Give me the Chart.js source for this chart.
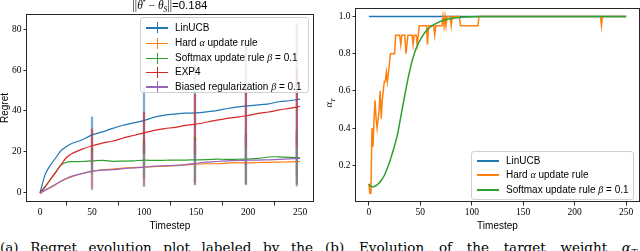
<!DOCTYPE html>
<html><head><meta charset="utf-8">
<script src="https://cdn.jsdelivr.net/npm/chart.js@4"></script>
<style>
html,body{margin:0;padding:0;background:#fff;}
#wrap{position:relative;width:640px;height:251px;overflow:hidden;background:#fff;font-family:"Liberation Sans",Arial,sans-serif;}
canvas{position:absolute;top:0;}
.m{font-family:"Liberation Serif","DejaVu Serif",serif;font-style:italic;}
.legend{position:absolute;background:rgba(255,255,255,0.8);border:1px solid #d0d0d0;border-radius:3px;box-sizing:border-box;}
.row{position:absolute;left:0;height:14px;font-size:10px;line-height:14px;white-space:nowrap;color:#000;}
.h{position:absolute;height:1.5px;}
.v{position:absolute;width:1.5px;}
.cap{position:absolute;top:240px;font-family:"DejaVu Serif","Liberation Serif",serif;font-size:13.5px;line-height:14px;white-space:nowrap;text-align:justify;text-align-last:justify;color:#000;}
.cap .m{font-family:"DejaVu Serif",serif;}
</style></head>
<body>
<div id="wrap">
<canvas id="c1" width="320" height="231" style="left:0"></canvas>
<canvas id="c2" width="320" height="231" style="left:320px"></canvas>
<div id="t1" style="position:absolute;left:110px;top:-3px;width:120px;text-align:center;font-size:11.5px;white-space:nowrap;"><span class="m" style="font-style:normal">||</span><span class="m">θ</span><sup style="font-size:7.5px">*</sup><span class="m" style="font-style:normal"> − </span><span class="m">θ</span><sub class="m" style="font-size:7.5px">S</sub><span class="m" style="font-style:normal">||</span>=0.184</div>
<div id="ylab2" style="position:absolute;left:322px;top:96px;width:16px;height:14px;transform:rotate(-90deg);font-size:10px;text-align:center;"><span class="m">α</span><sub class="m" style="font-size:7px">T</sub></div>
<div id="leg1" class="legend" style="left:140px;top:17px;width:169px;height:76px;"></div>
<div id="leg2" class="legend" style="left:471px;top:151px;width:163px;height:49px;"></div>
<div class="cap" style="left:0;width:313px;">(a) Regret evolution plot labeled by the</div>
<div class="cap" style="left:325px;width:312px;">(b) Evolution of the target weight <span class="m">α</span><sub class="m" style="font-size:9px">T</sub></div>
</div>
<script>
// ---------- data: left panel (regret) ----------
const regretSteps = [0,5,10,15,20,25,30,40,50,60,70,80,90,100,110,120,130,140,150,160,170,180,190,200,210,220,230,240,250];
const linucbRegret  = [0,9,13.5,17,20.5,22.5,24,25.8,28.3,29.8,31.5,33,34.2,35.3,37,38,38.5,38.9,39.1,39.6,40.2,41.2,42,42.5,43,43.5,44.5,45,45.8];
const hardRegret    = [-0.5,1.2,2.5,4,5.5,6.8,7.8,9.3,10.5,11.2,11.6,12.1,12.3,12.5,12.8,13,13.3,13.6,14,14.2,14.2,14.5,14.7,14.6,14.8,14.9,15,15.1,15.3];
const softmaxRegret = [0,3,6.5,10,13.5,14.8,15.2,15.3,15.6,15.8,15.4,15.5,15.6,16,15.8,15.9,16,16,16.1,16.2,16.5,16.3,16.4,16.5,16.8,17.5,17.6,17.3,17.2];
const exp4Regret    = [0,3,6.5,10,13.5,17,19,21.2,23,24.3,25.3,26.8,28,29.3,30.5,31.4,32,33,33.6,34.5,35.5,36.4,37,37.8,38.8,39.5,40.5,41.3,42.2];
const biasedRegret  = [0,1.3,2.7,4.2,5.6,7,8,9.4,10.6,11.1,11.3,11.8,12.2,12.5,13,13.2,13.4,13.8,14.4,15,15.3,15.6,15.8,15.9,16,16.1,16.3,16.6,16.8];
// error bars
const errSteps = [50,100,149,198,247];
const linucbErrMid  = [28.3,35.3,39.1,42.4,45.6], linucbErr  = [8.8,15.5,23.5,29,37];
const hardErrMid    = [10.5,12.5,14,14.6,15.2],   hardErr    = [8,9,10,10.5,11];
const softmaxErrMid = [15.6,16,16.1,16.5,17.2],   softmaxErr = [6,9,11,12,13];
const exp4ErrMid    = [23,29.3,33.6,37.8,42],     exp4Err    = [8.2,10.2,14.5,15.2,19];
const biasedErrMid  = [10.6,12.5,14.4,15.9,16.7], biasedErr  = [9.2,9.5,10.5,12,13.5];
const leftNames = ['LinUCB','Hard <span class="m">α</span> update rule','Softmax update rule <span class="m">β</span> = 0.1','EXP4','Biased regularization <span class="m">β</span> = 0.1'];
const xTicks = [0,50,100,150,200,250];
const xTickLabels = ['0','50','100','150','200','250'];
const leftYTicks = [0,20,40,60,80];
const leftYTickLabels = ['0','20','40','60','80'];

// ---------- data: right panel (alpha_T) ----------
const linucbAlphaT = [0,250];
const linucbAlphaV = [1.0,1.0];
const hardAlphaT = [0,1,2,3,4,5,6,7,8,9,10,11,12,13,14,15,16,17,18,19,20,21,25,26,30,31,32,35,36,37,38,42,43,44,46,47,48,49,56,57,58,63,64,65,71,72,73,74,75,76,79,80,81,88,89,106,107,225,226,227,250];
const hardAlphaV = [0.1,0.05,0.05,0.4,0.3,0.45,0.55,0.45,0.4,0.45,0.5,0.6,0.45,0.55,0.6,0.65,0.65,0.7,0.65,0.7,0.75,0.8,0.8,0.9,0.9,0.85,0.9,0.9,0.8,0.85,0.9,0.9,0.85,0.9,0.9,0.85,0.9,0.95,0.95,0.85,0.95,0.95,0.9,0.95,0.95,1.0,0.95,1.0,0.95,1.0,1.0,0.95,1.0,1.0,0.95,0.95,1.0,1.0,0.95,1.0,1.0];
const softAlphaT = [0,1,2,3,5,8,10,12,15,18,20,22,25,28,30,32,35,38,40,42,45,48,50,55,60,65,70,75,80,85,90,100,110,250];
const softAlphaV = [0.1,0.092,0.087,0.085,0.086,0.095,0.105,0.118,0.145,0.185,0.215,0.25,0.305,0.37,0.43,0.49,0.58,0.665,0.715,0.76,0.815,0.855,0.875,0.918,0.945,0.962,0.975,0.984,0.99,0.993,0.996,0.999,1.0,1.0];
const rightNames = ['LinUCB','Hard <span class="m">α</span> update rule','Softmax update rule <span class="m">β</span> = 0.1'];
const rightYTicks = [0.2,0.4,0.6,0.8,1.0];
const rightYTickLabels = ['0.2','0.4','0.6','0.8','1.0'];

const colors = ['#1f77b4','#ff7f0e','#2ca02c','#d62728','#9467bd'];
function rgba(hex,a){const n=parseInt(hex.slice(1),16);return `rgba(${n>>16},${(n>>8)&255},${n&255},${a})`;}
function pts(xs,ys){return xs.map((x,i)=>({x:x,y:ys[i]}));}
function bars(xs,mid,err){return xs.map((x,i)=>({x:x,y:[mid[i]-err[i],mid[i]+err[i]]}));}

const tickFont = {family:'"Liberation Serif","DejaVu Serif",serif', size:9.5};
const labFont = {family:'"Liberation Sans",Arial,sans-serif', size:10, lineHeight:1};

const framePlugin = {id:'frame', afterDraw(chart){const a=chart.chartArea,c=chart.ctx;c.save();c.strokeStyle='#262626';c.lineWidth=1;c.strokeRect(Math.round(a.left)-0.5,Math.round(a.top)+0.5,Math.round(a.right-a.left)+1,Math.round(a.bottom-a.top)-1);c.restore();}};

function xScale(h){return {type:'linear',min:-12.5,max:262.5,offset:false,
  afterBuildTicks:s=>{s.ticks=xTicks.map(v=>({value:v}));},
  afterFit:s=>{s.height=h;},
  grid:{drawOnChartArea:false,drawTicks:true,tickLength:3.5,tickColor:'#262626',lineWidth:1},
  border:{display:false},
  ticks:{font:tickFont,color:'#000',padding:1,maxRotation:0,autoSkip:false,callback:(v,i)=>xTickLabels[i]},
  title:{display:true,text:'Timestep',font:labFont,color:'#000',padding:0}};}
function yScale(min,max,w,tv,tl,title){return {type:'linear',min:min,max:max,
  afterBuildTicks:s=>{s.ticks=tv.map(v=>({value:v}));},
  afterFit:s=>{s.width=w;},
  grid:{drawOnChartArea:false,drawTicks:true,tickLength:3.5,tickColor:'#262626',lineWidth:1},
  border:{display:false},
  ticks:{font:tickFont,color:'#000',padding:2,autoSkip:false,callback:(v,i)=>tl[i]},
  title:{display:!!title,text:title||'',font:labFont,color:'#000',padding:0}};}

// left chart
const leftSeries = [linucbRegret,hardRegret,softmaxRegret,exp4Regret,biasedRegret];
const leftMid = [linucbErrMid,hardErrMid,softmaxErrMid,exp4ErrMid,biasedErrMid];
const leftErr = [linucbErr,hardErr,softmaxErr,exp4Err,biasedErr];
const ds1 = [];
leftSeries.forEach((s,k)=>{
  ds1.push({type:'line',data:pts(regretSteps,s),borderColor:colors[k],borderWidth:1.2,pointRadius:0,tension:0.2,order:20-2*k});
  ds1.push({type:'bar',data:bars(errSteps,leftMid[k],leftErr[k]),backgroundColor:rgba(colors[k],0.6),borderWidth:0,barThickness:1.6,grouped:false,order:19-2*k});
});
new Chart(document.getElementById('c1'),{type:'line',data:{datasets:ds1},
  options:{responsive:false,animation:false,devicePixelRatio:1,
    layout:{padding:{left:0,right:7,top:14,bottom:0}},
    plugins:{legend:{display:false},tooltip:{enabled:false}},
    scales:{x:xScale(29),y:yScale(-4.5,87.4,27,leftYTicks,leftYTickLabels,'Regret')}},
  plugins:[framePlugin]});

// right chart
const ds2 = [
  {type:'line',data:pts(linucbAlphaT,linucbAlphaV),borderColor:colors[0],borderWidth:1.5,pointRadius:0,order:3},
  {type:'line',data:pts(hardAlphaT,hardAlphaV),borderColor:colors[1],borderWidth:1.5,pointRadius:0,order:2},
  {type:'line',data:pts(softAlphaT,softAlphaV),borderColor:colors[2],borderWidth:1.5,pointRadius:0,cubicInterpolationMode:'monotone',order:1}
];
new Chart(document.getElementById('c2'),{type:'line',data:{datasets:ds2},
  options:{responsive:false,animation:false,devicePixelRatio:1,
    layout:{padding:{left:0,right:1,top:1,bottom:0}},
    plugins:{legend:{display:false},tooltip:{enabled:false}},
    scales:{x:xScale(29),y:yScale(0.0025,1.0475,36,rightYTicks,rightYTickLabels,'')}},
  plugins:[framePlugin]});

// legends
function buildLegend(id,names,rowTops,withBar){
  const el=document.getElementById(id);
  names.forEach((n,i)=>{
    const r=document.createElement('div');r.className='row';r.style.top=rowTops[i]+'px';r.style.width='100%';
    const h=document.createElement('div');h.className='h';h.style.left='5px';h.style.width='22px';h.style.top='6.5px';h.style.background=colors[i];r.appendChild(h);
    if(withBar){const v=document.createElement('div');v.className='v';v.style.left='15.5px';v.style.top='1.5px';v.style.height='11px';v.style.background=colors[i];r.appendChild(v);}
    const t=document.createElement('span');t.style.position='absolute';t.style.left='34px';t.innerHTML=n;r.appendChild(t);
    el.appendChild(r);
  });
}
buildLegend('leg1',leftNames,[2.5,18,33,47,61.5],true);
buildLegend('leg2',rightNames,[1.5,15.5,30.5],false);
</script>
</body></html>
